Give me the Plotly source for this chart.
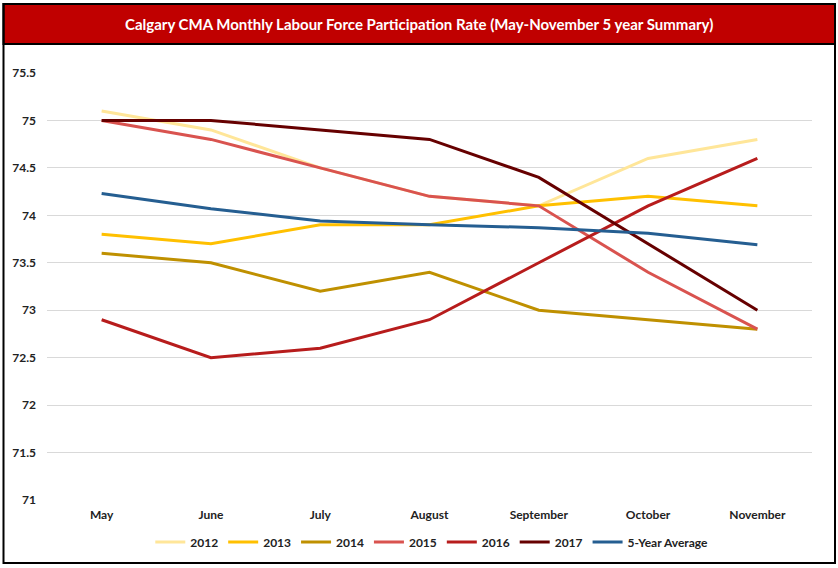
import plotly.graph_objects as go

months = ["May", "June", "July", "August", "September", "October", "November"]
y2012 = [75.1, 74.9, 74.5, 74.2, 74.1, 74.6, 74.8]
y2013 = [73.8, 73.7, 73.9, 73.9, 74.1, 74.2, 74.1]
y2014 = [73.6, 73.5, 73.2, 73.4, 73.0, 72.9, 72.8]
y2015 = [75.0, 74.8, 74.5, 74.2, 74.1, 73.4, 72.8]
y2016 = [72.9, 72.5, 72.6, 72.9, 73.5, 74.1, 74.6]
y2017 = [75.0, 75.0, 74.9, 74.8, 74.4, 73.7, 73.0]
avg5 = [74.23, 74.07, 73.94, 73.90, 73.87, 73.81, 73.69]
yticks = [71, 71.5, 72, 72.5, 73, 73.5, 74, 74.5, 75, 75.5]

series = [
    ("2012", y2012, "#FFE699"),
    ("2013", y2013, "#FFC000"),
    ("2014", y2014, "#BF9000"),
    ("2015", y2015, "#D9534F"),
    ("2016", y2016, "#B71C1C"),
    ("2017", y2017, "#660000"),
    ("5-Year Average", avg5, "#255E91"),
]

fig = go.Figure()
for name, vals, col in series:
    fig.add_trace(go.Scatter(x=months, y=vals, name=name, mode="lines",
                             line=dict(color=col, width=3)))

W, H = 838, 568
L, R, T, B = 47, 26, 73, 68
pw, ph = W - L - R, H - T - B

def px(x):
    return (x - L) / pw

def py(y):
    return (H - B - y) / ph

fig.update_layout(
    width=W, height=H,
    margin=dict(l=L, r=R, t=T, b=B),
    paper_bgcolor="white", plot_bgcolor="white",
    font=dict(family="Lato, Open Sans, sans-serif", color="#333333"),
    showlegend=True,
    legend=dict(orientation="h", x=0.503, xanchor="center", y=py(542), yanchor="middle",
                font=dict(size=12, color="#222222", family="Lato, sans-serif", weight="bold"),
                itemwidth=30, tracegroupgap=0, bgcolor="rgba(0,0,0,0)"),
    xaxis=dict(range=[-0.5, 6.5], showgrid=False, zeroline=False, showline=False, ticks="",
               ticklabelstandoff=6,
               tickfont=dict(size=12, color="#222222", weight="bold")),
    yaxis=dict(range=[71, 75.5], tickvals=yticks, ticktext=[f"{v:g}" for v in yticks],
               showgrid=True, gridcolor="#D9D9D9", gridwidth=1, zeroline=False, showline=False,
               ticks="", ticklabelstandoff=10,
               tickfont=dict(size=12, color="#222222", weight="bold")),
    shapes=[
        dict(type="rect", xref="paper", yref="paper", x0=px(3.5), x1=px(835), y0=py(44), y1=py(4),
             fillcolor="#C00000", line=dict(color="black", width=2), layer="below"),
        dict(type="rect", xref="paper", yref="paper", x0=px(3.5), x1=px(835), y0=py(563), y1=py(4),
             fillcolor="rgba(0,0,0,0)", line=dict(color="black", width=2)),
    ],
    annotations=[
        dict(text="Calgary CMA Monthly Labour Force Participation Rate (May-November 5 year Summary)",
             xref="paper", yref="paper", x=px(419), y=py(24), xanchor="center", yanchor="middle",
             showarrow=False, font=dict(size=15, color="white", family="Lato, sans-serif", weight="bold")),
    ],
)

fig.write_html("out.html", config={"displayModeBar": False},
               post_script="document.body.style.margin='0';")
